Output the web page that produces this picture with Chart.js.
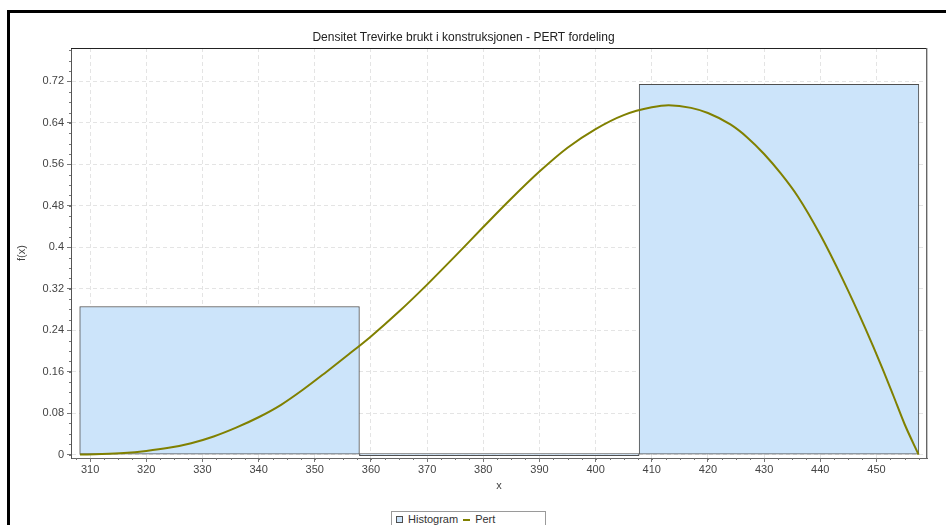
<!DOCTYPE html>
<html>
<head>
<meta charset="utf-8">
<title>Densitet Trevirke - PERT fordeling</title>
<script src="https://cdn.jsdelivr.net/npm/chart.js@4/dist/chart.umd.min.js"></script>
<style>
  html, body { margin: 0; padding: 0; background: #fff; overflow: hidden; width: 946px; height: 525px; }
  #frame { position: absolute; left: 7px; top: 10px; width: 960px; height: 540px; border-top: 3px solid #000; border-left: 3px solid #000; }
  #chart { position: absolute; left: 0; top: 0; }
  #legend { position: absolute; left: 391px; top: 511px; width: 155px; height: 24px; box-sizing: border-box;
            border: 1px solid #9a9a9a; background: #fff; padding: 1px 0 0 4px; white-space: nowrap;
            display: flex; align-items: flex-start;
            font: 11px "Liberation Sans", Arial, sans-serif; line-height: 13px; color: #333; }
  #legend .item { display: flex; align-items: center; height: 13px; margin-right: 5px; }
  #legend .swatch-box { width: 5px; height: 5px; border: 1px solid; margin-right: 5px; }
  #legend .swatch-line { width: 7px; height: 2px; margin-right: 5px; }
</style>
</head>
<body>
<div id="frame"></div>
<canvas id="chart" width="930" height="525"></canvas>
<div id="legend"></div>
<script>
// histogram bins (centre of each bin) and their heights
const binCenters = [333.05, 382.85, 432.65];
const binHeights = [0.2857, 0, 0.7143];

// PERT curve
const pertX = [308.2, 312, 316, 320, 324, 328, 332, 336, 340, 344,
               348, 352, 356, 360, 365, 370, 375, 380, 385, 390,
               395, 400, 405, 410, 413, 417, 420, 424, 427, 430,
               433, 436, 440, 444, 448, 451, 453, 455, 457.5];
const pertY = [0, 0.001, 0.003, 0.007, 0.013, 0.022, 0.035, 0.052, 0.072, 0.096,
               0.126, 0.159, 0.193, 0.228, 0.276, 0.328, 0.383, 0.439, 0.494, 0.546,
               0.592, 0.628, 0.655, 0.670, 0.674, 0.669, 0.659, 0.637, 0.612, 0.580,
               0.542, 0.498, 0.424, 0.338, 0.244, 0.168, 0.114, 0.059, 0];

const xTicks = [310, 320, 330, 340, 350, 360, 370, 380, 390, 400, 410, 420, 430, 440, 450];
const yTicks = [0, 0.08, 0.16, 0.24, 0.32, 0.4, 0.48, 0.56, 0.64, 0.72];
const xMinorStep = 2.5;
const yMinorStep = 0.02;

Chart.defaults.font.family = '"Liberation Sans", Arial, sans-serif';
Chart.defaults.font.size = 11;
Chart.defaults.color = "#444";

// small ticks between the labelled ones + the top/right edge of the plot
const plotExtras = {
    id: "plotExtras",
    afterDraw(chart) {
        const { ctx, chartArea, scales: { x, y } } = chart;
        ctx.save();
        ctx.lineWidth = 1;
        ctx.strokeStyle = "#777";
        ctx.beginPath();
        for (let v = Math.ceil(x.min / xMinorStep) * xMinorStep; v <= x.max; v += xMinorStep) {
            const px = Math.round(x.getPixelForValue(v)) + 0.5;
            ctx.moveTo(px, x.top);
            ctx.lineTo(px, x.top + 2);
        }
        for (let v = 0; v <= y.max; v += yMinorStep) {
            const py = Math.round(y.getPixelForValue(v)) + 0.5;
            ctx.moveTo(y.right - 2, py);
            ctx.lineTo(y.right, py);
        }
        ctx.stroke();

        ctx.strokeStyle = "#222";
        ctx.beginPath();
        ctx.moveTo(chartArea.left, Math.round(chartArea.top) + 0.5);
        ctx.lineTo(chartArea.right, Math.round(chartArea.top) + 0.5);
        ctx.stroke();
        ctx.strokeStyle = "#666";
        ctx.beginPath();
        ctx.moveTo(Math.round(chartArea.right) - 0.5, chartArea.top);
        ctx.lineTo(Math.round(chartArea.right) - 0.5, chartArea.bottom);
        ctx.stroke();
        ctx.strokeStyle = "#c4c4c4";
        ctx.beginPath();
        ctx.moveTo(Math.round(chartArea.right) + 0.5, chartArea.top);
        ctx.lineTo(Math.round(chartArea.right) + 0.5, chartArea.bottom);
        ctx.stroke();
        ctx.restore();
    },
};

const gridStyle = {
    color: "#e4e4e4",
    tickColor: "#777",
    tickLength: 4,
    tickBorderDash: [],
};

const chart = new Chart(document.getElementById("chart"), {
    type: "bar",
    data: {
        datasets: [
            {
                type: "bar",
                label: "Histogram",
                data: binCenters.map((c, i) => ({ x: c, y: binHeights[i] })),
                backgroundColor: "#cce4fa",
                borderColor: "#4f4f4f",
                borderWidth: 1,
                borderSkipped: false,
                barThickness: "flex",
                categoryPercentage: 1,
                barPercentage: 1,
                minBarLength: 2,
                order: 1,
            },
            {
                type: "line",
                label: "Pert",
                data: pertX.map((v, i) => ({ x: v, y: pertY[i] })),
                borderColor: "#808000",
                backgroundColor: "#808000",
                borderWidth: 2,
                pointRadius: 0,
                cubicInterpolationMode: "monotone",
                fill: false,
                order: 0,
            },
        ],
    },
    options: {
        responsive: false,
        animation: false,
        layout: { padding: { left: 0, right: 3, top: 0, bottom: 27 } },
        plugins: {
            legend: { display: false },
            tooltip: { enabled: false },
            title: {
                display: true,
                text: "Densitet Trevirke brukt i konstruksjonen - PERT fordeling",
                color: "#222",
                font: { size: 12, weight: "normal" },
                padding: { top: 30, bottom: 3.6 },
            },
        },
        scales: {
            x: {
                type: "linear",
                min: 306.6,
                max: 459.0,
                offset: false,
                grid: { ...gridStyle, offset: false },
                border: { color: "#666", dash: [4, 3] },
                afterBuildTicks: (scale) => {
                    scale.ticks = xTicks.map((v) => ({ value: v }));
                },
                afterFit: (scale) => {
                    scale.height = 40;
                },
                ticks: { padding: 1, autoSkip: false, maxRotation: 0 },
                title: { display: true, text: "x", color: "#444", padding: { top: 0, bottom: 5.4 } },
            },
            y: {
                min: -0.0066,
                max: 0.7845,
                grid: gridStyle,
                border: { color: "#555", dash: [4, 3] },
                afterBuildTicks: (scale) => {
                    scale.ticks = yTicks.map((v) => ({ value: v }));
                },
                afterFit: (scale) => {
                    scale.width = 71;
                },
                ticks: {
                    padding: 3,
                    callback: (v) => String(Math.round(v * 100) / 100),
                },
                title: { display: true, text: "f(x)", color: "#444", padding: { top: 15, bottom: 0 } },
            },
        },
    },
    plugins: [plotExtras],
});

function buildLegend(chart) {
    const box = document.getElementById("legend");
    chart.data.datasets.forEach((ds) => {
        const item = document.createElement("span");
        item.className = "item";
        const swatch = document.createElement("span");
        if (ds.type === "line") {
            swatch.className = "swatch-line";
            swatch.style.background = ds.borderColor;
        } else {
            swatch.className = "swatch-box";
            swatch.style.background = ds.backgroundColor;
            swatch.style.borderColor = ds.borderColor;
        }
        item.appendChild(swatch);
        item.appendChild(document.createTextNode(ds.label));
        box.appendChild(item);
    });
}

buildLegend(chart);
</script>
</body>
</html>
